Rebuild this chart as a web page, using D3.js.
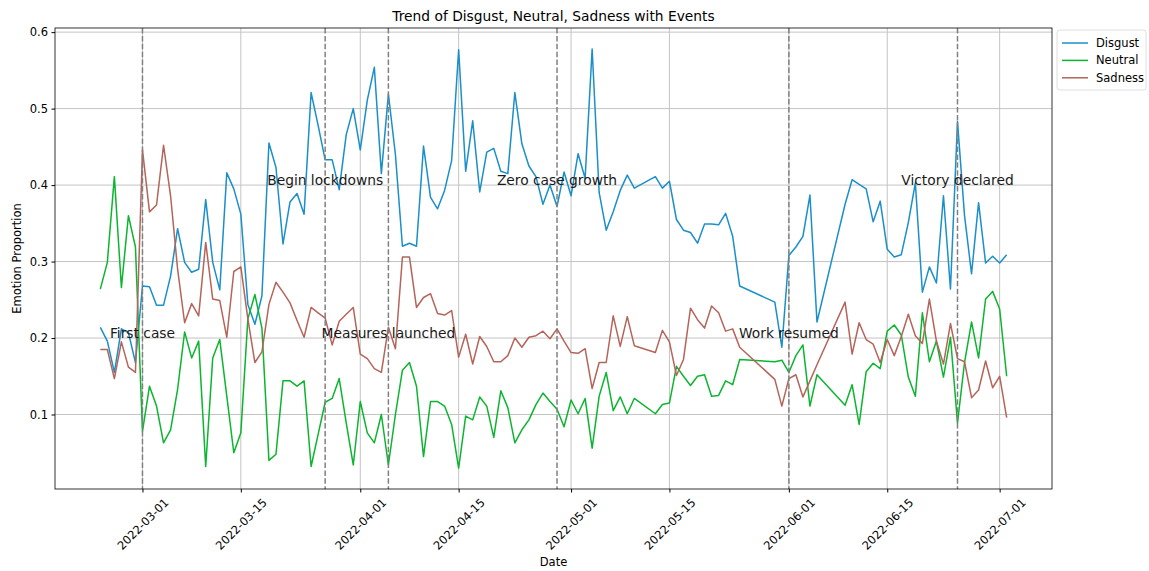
<!DOCTYPE html>
<html>
<head>
<meta charset="utf-8">
<script src="https://cdn.jsdelivr.net/npm/d3@7"></script>
<style>
body { margin: 0; background: #fff; }
text { font-family: "DejaVu Sans", sans-serif; fill: #000; }
</style>
</head>
<body>
<div id="chart"></div>
<script>
// Data (daily values, some days missing)
const dates = [
  "2022-02-23","2022-02-24","2022-02-25","2022-02-26","2022-02-27","2022-02-28",
  "2022-03-01","2022-03-02","2022-03-03","2022-03-04","2022-03-05","2022-03-06","2022-03-07","2022-03-08","2022-03-09","2022-03-10",
  "2022-03-11","2022-03-12","2022-03-13","2022-03-14","2022-03-15","2022-03-16","2022-03-17","2022-03-18","2022-03-19","2022-03-20",
  "2022-03-21","2022-03-22","2022-03-23","2022-03-24","2022-03-25","2022-03-26","2022-03-27","2022-03-28","2022-03-29","2022-03-30","2022-03-31",
  "2022-04-01","2022-04-02","2022-04-03","2022-04-04","2022-04-05","2022-04-06","2022-04-07","2022-04-08","2022-04-09","2022-04-10",
  "2022-04-11","2022-04-12","2022-04-13","2022-04-14","2022-04-15","2022-04-16","2022-04-17","2022-04-18","2022-04-19","2022-04-20",
  "2022-04-21","2022-04-22","2022-04-23","2022-04-24","2022-04-25","2022-04-26","2022-04-27","2022-04-28","2022-04-29","2022-04-30",
  "2022-05-01","2022-05-02","2022-05-03","2022-05-04","2022-05-05","2022-05-06","2022-05-07","2022-05-08","2022-05-09","2022-05-10",
  "2022-05-13","2022-05-14","2022-05-15","2022-05-16","2022-05-17","2022-05-18","2022-05-19","2022-05-20","2022-05-21","2022-05-22",
  "2022-05-23","2022-05-24","2022-05-25","2022-05-30","2022-05-31",
  "2022-06-01","2022-06-02","2022-06-03","2022-06-04","2022-06-05",
  "2022-06-09","2022-06-10","2022-06-11","2022-06-12","2022-06-13","2022-06-14","2022-06-15","2022-06-16","2022-06-17","2022-06-18",
  "2022-06-19","2022-06-20","2022-06-21","2022-06-22","2022-06-23","2022-06-24","2022-06-25","2022-06-26","2022-06-27","2022-06-28",
  "2022-06-29","2022-06-30","2022-07-01","2022-07-02"
];

const disgust = [
  0.214,0.196,0.155,0.212,0.207,0.168,
  0.268,0.267,0.243,0.243,0.281,0.343,0.299,0.286,0.290,0.381,
  0.299,0.263,0.416,0.395,0.362,0.244,0.218,0.255,0.455,0.423,
  0.323,0.378,0.389,0.362,0.521,0.478,0.433,0.433,0.394,0.466,0.500,
  0.446,0.511,0.554,0.415,0.519,0.440,0.320,0.324,0.320,0.451,
  0.384,0.369,0.393,0.432,0.577,0.418,0.484,0.391,0.443,0.448,
  0.418,0.415,0.521,0.454,0.425,0.411,0.375,0.400,0.372,0.417,
  0.386,0.441,0.409,0.578,0.390,0.341,0.365,0.393,0.413,0.396,
  0.411,0.396,0.405,0.355,0.341,0.338,0.324,0.349,0.349,0.348,
  0.363,0.333,0.268,0.247,0.188,
  0.308,0.319,0.333,0.387,0.221,
  0.375,0.407,0.401,0.395,0.352,0.379,0.316,0.306,0.309,0.351,
  0.403,0.260,0.293,0.272,0.386,0.264,0.483,0.360,0.284,0.377,
  0.298,0.307,0.298,0.309
];

const neutral = [
  0.264,0.299,0.411,0.266,0.360,0.319,
  0.078,0.137,0.111,0.063,0.080,0.133,0.208,0.174,0.196,0.032,
  0.174,0.198,0.124,0.050,0.076,0.225,0.257,0.213,0.040,0.048,
  0.144,0.144,0.137,0.144,0.032,0.074,0.116,0.121,0.147,0.089,0.034,
  0.117,0.076,0.063,0.100,0.034,0.100,0.158,0.168,0.137,0.045,
  0.117,0.117,0.111,0.087,0.030,0.098,0.093,0.123,0.111,0.070,
  0.131,0.109,0.063,0.080,0.093,0.113,0.128,0.117,0.107,0.084,
  0.119,0.101,0.121,0.056,0.124,0.155,0.105,0.123,0.101,0.121,
  0.101,0.113,0.115,0.163,0.150,0.138,0.150,0.152,0.124,0.125,
  0.144,0.139,0.172,0.169,0.171,
  0.155,0.177,0.191,0.111,0.152,
  0.112,0.139,0.087,0.156,0.167,0.160,0.209,0.217,0.204,0.149,
  0.124,0.233,0.169,0.196,0.149,0.201,0.089,0.168,0.221,0.174,
  0.251,0.261,0.238,0.150
];

const sadness = [
  0.185,0.185,0.147,0.195,0.162,0.155,
  0.446,0.365,0.374,0.452,0.386,0.290,0.220,0.245,0.229,0.325,
  0.251,0.249,0.201,0.287,0.293,0.225,0.168,0.182,0.244,0.273,
  0.260,0.246,0.223,0.201,0.240,0.233,0.226,0.191,0.222,0.231,0.240,
  0.179,0.173,0.160,0.155,0.214,0.186,0.306,0.306,0.240,0.253,
  0.258,0.232,0.230,0.236,0.175,0.205,0.166,0.202,0.189,0.169,
  0.169,0.177,0.200,0.188,0.201,0.203,0.209,0.199,0.212,0.196,
  0.181,0.180,0.186,0.134,0.168,0.168,0.229,0.189,0.228,0.190,
  0.181,0.210,0.195,0.151,0.172,0.239,0.224,0.213,0.242,0.233,
  0.209,0.212,0.188,0.146,0.111,
  0.147,0.152,0.123,0.144,0.165,
  0.247,0.179,0.220,0.198,0.192,0.168,0.198,0.177,0.202,0.231,
  0.203,0.193,0.251,0.196,0.166,0.219,0.173,0.169,0.122,0.132,
  0.170,0.135,0.150,0.096
];

const seriesNames = ["Disgust", "Neutral", "Sadness"];
const seriesColors = ["#1a8fc9", "#0bb52f", "#b5645a"];

// Events
const eventDates = ["2022-03-01","2022-03-27","2022-04-05","2022-04-29","2022-06-01","2022-06-25"];
const eventLabels = ["First case","Begin lockdowns","Measures launched","Zero case growth","Work resumed","Victory declared"];
const eventLabelY = [0.2, 0.4, 0.2, 0.4, 0.2, 0.4];

// Ticks
const xTickLabels = ["2022-03-01","2022-03-15","2022-04-01","2022-04-15","2022-05-01","2022-05-15","2022-06-01","2022-06-15","2022-07-01"];
const yTickValues = [0.1, 0.2, 0.3, 0.4, 0.5, 0.6];

//Dimensions
const width = 1149;
const height = 571;
const plotLeft = 55, plotRight = 1052, plotTop = 28, plotBottom = 489;
const tickFont = "11.5px";

const parse = d3.timeParse("%Y-%m-%d");
const dateObjs = dates.map(parse);

//Scales with 5% margins
const [dmin, dmax] = d3.extent(dateObjs);
const dpad = (dmax - dmin) * 0.05;
const x = d3.scaleTime()
    .domain([new Date(+dmin - dpad), new Date(+dmax + dpad)])
    .range([plotLeft, plotRight]);

const allVals = disgust.concat(neutral, sadness);
const [vmin, vmax] = d3.extent(allVals);
const vpad = (vmax - vmin) * 0.05;
const y = d3.scaleLinear()
    .domain([vmin - vpad, vmax + vpad])
    .range([plotBottom, plotTop]);

const svg = d3.select("#chart").append("svg")
    .attr("width", width).attr("height", height);

//Grid
const grid = svg.append("g");
grid.selectAll("line.gx").data(xTickLabels).enter().append("line")
    .attr("x1", d => x(parse(d))).attr("x2", d => x(parse(d)))
    .attr("y1", plotTop).attr("y2", plotBottom)
    .attr("stroke", "#c4c4c4").attr("stroke-width", 1);
grid.selectAll("line.gy").data(yTickValues).enter().append("line")
    .attr("x1", plotLeft).attr("x2", plotRight)
    .attr("y1", d => y(d)).attr("y2", d => y(d))
    .attr("stroke", "#c4c4c4").attr("stroke-width", 1);

//Lines
const seriesData = [disgust, neutral, sadness];
const line = d3.line()
    .x((d, i) => x(dateObjs[i]))
    .y(d => y(d));

svg.append("g").selectAll("path")
    .data(seriesData)
    .enter().append("path")
    .attr("d", d => line(d))
    .attr("fill", "none")
    .attr("stroke", (d, i) => seriesColors[i])
    .attr("stroke-width", 1.5)
    .attr("stroke-linejoin", "round");

//Event lines and labels
svg.append("g").selectAll("line")
    .data(eventDates)
    .enter().append("line")
    .attr("x1", d => x(parse(d))).attr("x2", d => x(parse(d)))
    .attr("y1", plotTop).attr("y2", plotBottom)
    .attr("stroke", "#808080")
    .attr("stroke-width", 1.5)
    .attr("stroke-dasharray", "5.5,2.4");

svg.append("g").selectAll("text")
    .data(eventLabels)
    .enter().append("text")
    .attr("x", (d, i) => x(parse(eventDates[i])))
    .attr("y", (d, i) => y(eventLabelY[i]))
    .attr("text-anchor", "middle")
    .style("font-size", "13.8px")
    .style("fill", "#1a1a1a")
    .text(d => d);

//Axes
const xAxis = d3.axisBottom(x)
    .tickValues(xTickLabels.map(parse))
    .tickFormat(d3.timeFormat("%Y-%m-%d"))
    .tickSize(3.5).tickPadding(3.5);
const gx = svg.append("g")
    .attr("transform", `translate(0, ${plotBottom})`)
    .call(xAxis);
gx.select(".domain").remove();
gx.selectAll("text")
    .attr("y", 0).attr("dy", null)
    .attr("text-anchor", "middle")
    .attr("dominant-baseline", "central")
    .attr("transform", "translate(0, 35) rotate(-45)")
    .style("font-size", tickFont);

const yAxis = d3.axisLeft(y)
    .tickValues(yTickValues)
    .tickFormat(d3.format(".1f"))
    .tickSize(3.5).tickPadding(3.5);
const gy = svg.append("g")
    .attr("transform", `translate(${plotLeft}, 0)`)
    .call(yAxis);
gy.select(".domain").remove();
gy.selectAll("text").style("font-size", tickFont);

//Frame
svg.append("rect")
    .attr("x", plotLeft).attr("y", plotTop)
    .attr("width", plotRight - plotLeft).attr("height", plotBottom - plotTop)
    .attr("fill", "none").attr("stroke", "#000").attr("stroke-width", 0.8);

//Title and labels
svg.append("text").attr("x", (plotLeft + plotRight) / 2).attr("y", 21)
    .attr("text-anchor", "middle").style("font-size", "13.8px")
    .text("Trend of Disgust, Neutral, Sadness with Events");
svg.append("text").attr("x", (plotLeft + plotRight) / 2).attr("y", 566)
    .attr("text-anchor", "middle").style("font-size", tickFont)
    .text("Date");
svg.append("text")
    .attr("transform", `translate(21, ${(plotTop + plotBottom) / 2}) rotate(-90)`)
    .attr("text-anchor", "middle").style("font-size", tickFont)
    .text("Emotion Proportion");

//Legend
const legend = svg.append("g").attr("transform", "translate(1057, 30)");
legend.append("rect")
    .attr("width", 89).attr("height", 60).attr("rx", 3)
    .attr("fill", "#fff").attr("fill-opacity", 0.8)
    .attr("stroke", "#d6d6d6").attr("stroke-width", 0.8);
seriesNames.forEach((name, i) => {
    legend.append("line")
        .attr("x1", 5).attr("x2", 31)
        .attr("y1", 13 + i * 17.4).attr("y2", 13 + i * 17.4)
        .attr("stroke", seriesColors[i]).attr("stroke-width", 1.5);
    legend.append("text")
        .attr("x", 39).attr("y", 13 + i * 17.4)
        .attr("dominant-baseline", "central")
        .style("font-size", tickFont)
        .text(name);
});
</script>
</body>
</html>
